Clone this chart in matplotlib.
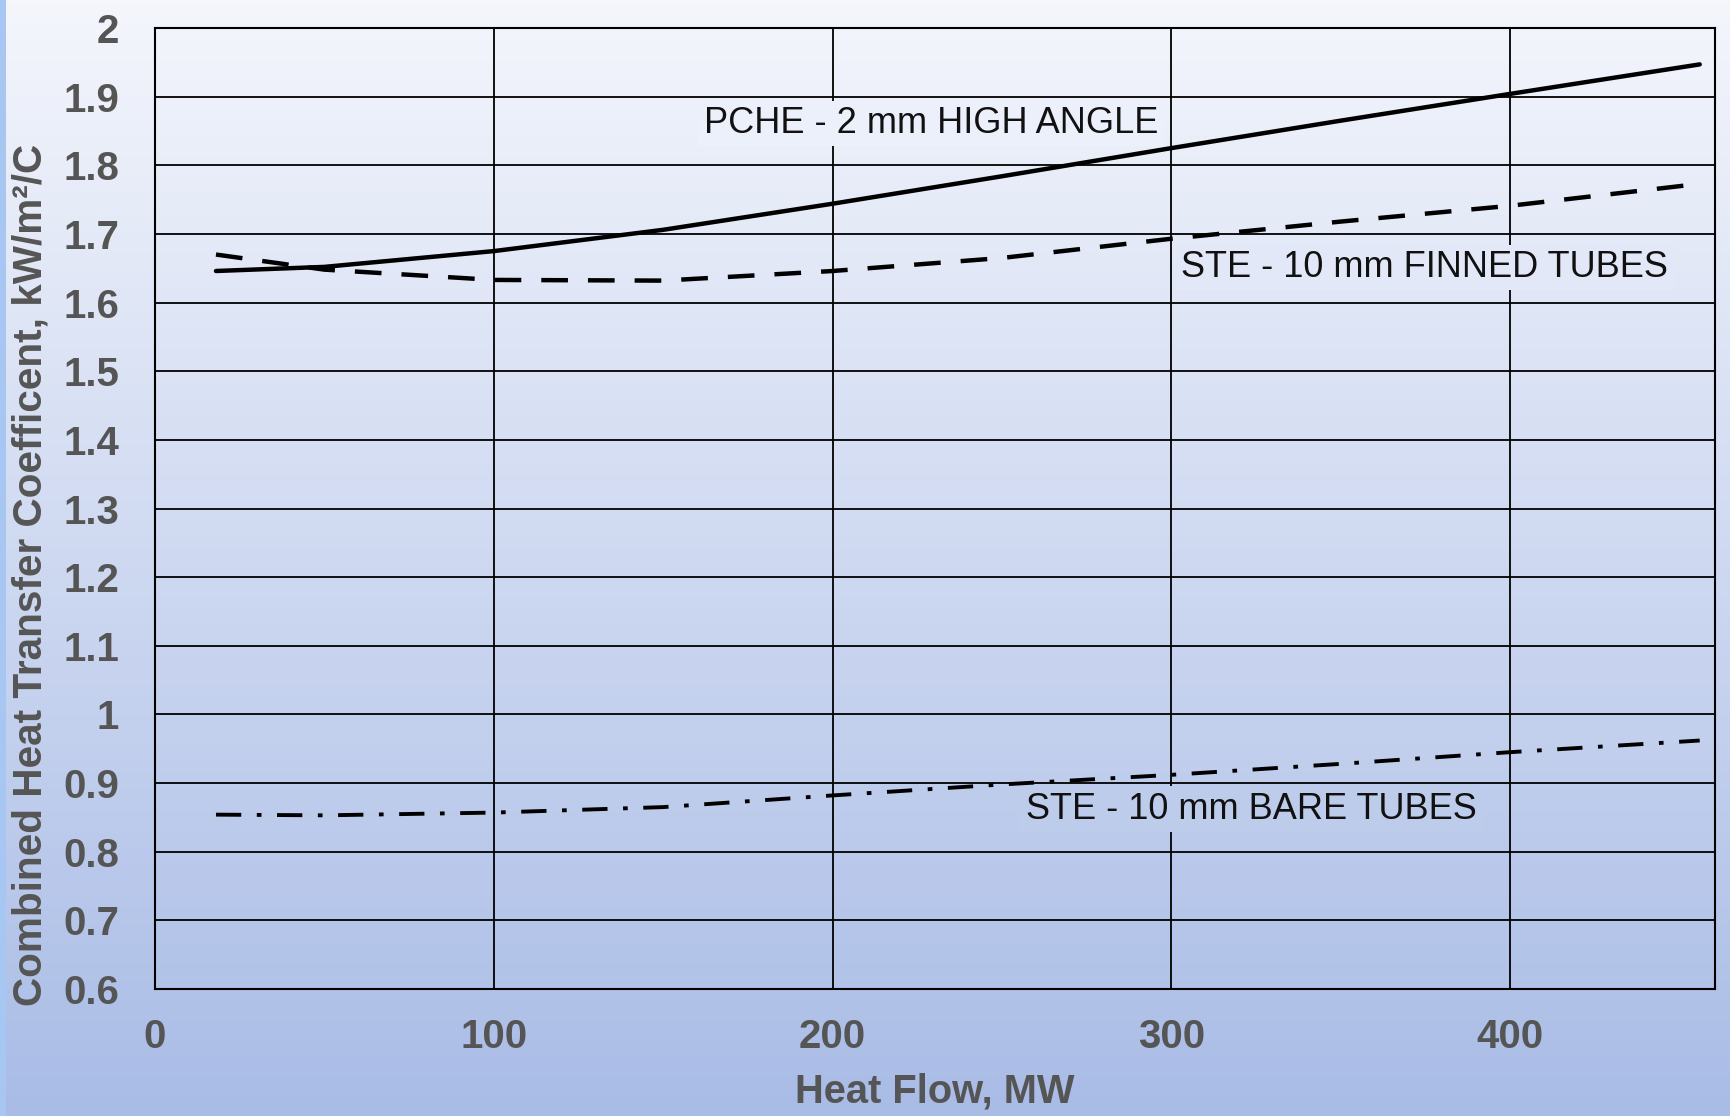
import numpy as np
import matplotlib
matplotlib.use("Agg")
import matplotlib.pyplot as plt
from matplotlib.colors import to_rgb

plt.rcParams["font.family"] = ["Liberation Sans", "DejaVu Sans"]

# heat flow, MW
heat_flow = [18, 50, 100, 150, 200, 250, 300, 350, 400, 456]
# combined heat transfer coefficient, kW/m2/C
pche_high_angle = [1.646, 1.652, 1.675, 1.706, 1.744, 1.784, 1.825, 1.865, 1.904, 1.947]
ste_finned = [1.670, 1.648, 1.633, 1.632, 1.646, 1.665, 1.693, 1.718, 1.741, 1.773]
ste_bare = [0.854, 0.853, 0.857, 0.865, 0.882, 0.898, 0.912, 0.928, 0.945, 0.962]

x_ticks = [0, 100, 200, 300, 400]
y_ticks = [0.6, 0.7, 0.8, 0.9, 1.0, 1.1, 1.2, 1.3, 1.4, 1.5, 1.6, 1.7, 1.8, 1.9, 2.0]

TOP = np.array(to_rgb("#f4f6fc"))
BOTTOM = np.array(to_rgb("#a9bce6"))


def bg_at(frac_from_top):
    return tuple(TOP + (BOTTOM - TOP) * frac_from_top)


fig = plt.figure(figsize=(17.3, 11.16), dpi=100)

# gradient background
bg = fig.add_axes([0, 0, 1, 1], zorder=-10)
grad = np.linspace(0, 1, 256)[:, None, None]
img = TOP + (BOTTOM - TOP) * grad
bg.imshow(np.repeat(img, 2, axis=1), aspect="auto", extent=[0, 1, 0, 1])
bg.add_patch(plt.Rectangle((0, 0), 0.0035, 1, color="#a8c6f2", lw=0))
bg.set_xlim(0, 1)
bg.set_ylim(0, 1)
bg.axis("off")

ax = fig.add_axes([0.0896, 0.1138, 0.9017, 0.8611])
ax.patch.set_alpha(0)

ax.plot(heat_flow, pche_high_angle, color="black", lw=3.2, solid_capstyle="round")
ax.plot(heat_flow, ste_finned, color="black", lw=3.2, linestyle=(0, (6, 4.5)))
ax.plot(heat_flow, ste_bare, color="black", lw=2.8, linestyle=(0, (6.5, 4, 1.2, 4)))

ax.set_xlim(0, 460.5)
ax.set_ylim(0.6, 2.0)
ax.set_xticks(x_ticks)
ax.set_yticks(y_ticks)
ax.set_yticklabels([f"{v:g}" for v in y_ticks])
ax.grid(True, color="black", lw=1.3)
ax.set_axisbelow(True)
for s in ax.spines.values():
    s.set_color("black")
    s.set_linewidth(1.5)

tick_col = "#555555"
ax.tick_params(axis="both", length=0, labelsize=29, labelcolor=tick_col)
ax.tick_params(axis="y", pad=26)
ax.tick_params(axis="x", pad=21)
for lab in ax.get_xticklabels() + ax.get_yticklabels():
    lab.set_fontweight("bold")

ax.set_xlabel("Heat Flow, MW", fontsize=28.7, fontweight="bold", color=tick_col)
ax.xaxis.set_label_coords(0.5, -0.087)
ax.set_ylabel("Combined Heat Transfer Coefficent, kW/m²/C", fontsize=29.2,
              fontweight="bold", color=tick_col)
ax.yaxis.set_label_coords(-0.0675, 0.4305)

labels = [
    ("PCHE - 2 mm HIGH ANGLE", 162, 1.861),
    ("STE - 10 mm FINNED TUBES", 303, 1.651),
    ("STE - 10 mm BARE TUBES", 257, 0.862),
]
for txt, x, y in labels:
    frac = (0.9749 - (0.1138 + 0.8611 * (y - 0.6) / 1.4)) + 0.0251
    ax.text(x, y, txt, fontsize=26, color="#111111", va="center", ha="left",
            bbox=dict(boxstyle="square,pad=0.15", fc=bg_at(frac), ec="none"))

fig.savefig("out.png", dpi=100)
